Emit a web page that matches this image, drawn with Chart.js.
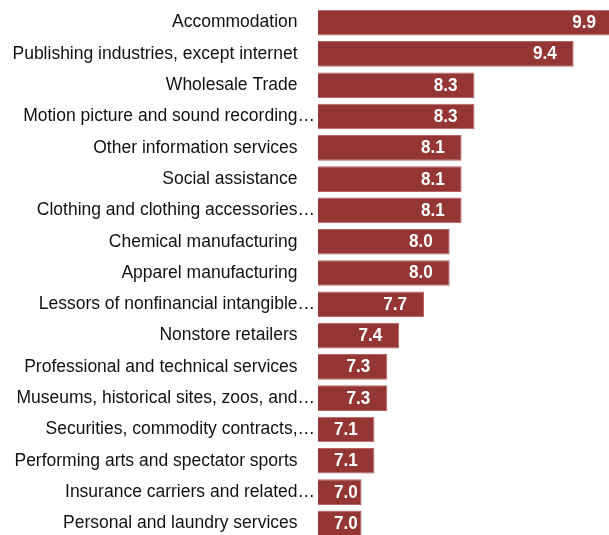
<!DOCTYPE html>
<html>
<head>
<meta charset="utf-8">
<script src="https://cdn.jsdelivr.net/npm/chart.js@4"></script>
<style>
  html, body { margin: 0; padding: 0; background: #fff; overflow: hidden; }
  #wrap { width: 613px; height: 539px; position: relative; }
</style>
</head>
<body>
<div id="wrap"><canvas id="c"></canvas></div>
<script>
const categories = [
  "Accommodation",
  "Publishing industries, except internet",
  "Wholesale Trade",
  "Motion picture and sound recording…",
  "Other information services",
  "Social assistance",
  "Clothing and clothing accessories…",
  "Chemical manufacturing",
  "Apparel manufacturing",
  "Lessors of nonfinancial intangible…",
  "Nonstore retailers",
  "Professional and technical services",
  "Museums, historical sites, zoos, and…",
  "Securities, commodity contracts,…",
  "Performing arts and spectator sports",
  "Insurance carriers and related…",
  "Personal and laundry services"
];
const values = [9.9, 9.44, 8.28, 8.28, 8.13, 8.13, 8.13, 7.99, 7.99, 7.69, 7.40, 7.26, 7.26, 7.11, 7.11, 6.96, 6.96];
const axisMin = 6.45;
const axisMax = 9.9;

const barColor = '#943634';

const valueLabels = {
  id: 'valueLabels',
  afterDatasetsDraw(chart) {
    const ctx = chart.ctx;
    const meta = chart.getDatasetMeta(0);
    const left = chart.chartArea.left;
    const sx = 0.95;
    ctx.save();
    ctx.fillStyle = '#ffffff';
    ctx.font = 'bold 18px "Liberation Sans", Arial, sans-serif';
    ctx.textAlign = 'left';
    ctx.textBaseline = 'middle';
    meta.data.forEach((bar, i) => {
      const txt = values[i].toFixed(1);
      const w = ctx.measureText(txt).width * sx;
      const x0 = Math.max(bar.x - 17 - w, left + 16);
      ctx.save();
      ctx.translate(x0, bar.y + 0.5);
      ctx.scale(sx, 1);
      ctx.fillText(txt, 0, 0);
      ctx.restore();
    });
    ctx.restore();
  }
};

new Chart(document.getElementById('c'), {
  type: 'bar',
  data: {
    labels: categories,
    datasets: [{
      data: values,
      backgroundColor: barColor,
      borderColor: '#b56664',
      borderWidth: 1,
      barPercentage: 0.82,
      categoryPercentage: 1.0
    }]
  },
  options: {
    indexAxis: 'y',
    responsive: true,
    maintainAspectRatio: false,
    animation: false,
    layout: { padding: { top: 7, right: 0, bottom: 0, left: 0 } },
    plugins: { legend: { display: false }, tooltip: { enabled: false } },
    scales: {
      x: {
        display: false,
        min: axisMin,
        max: axisMax
      },
      y: {
        grid: { display: false, drawTicks: false },
        border: { display: false },
        ticks: {
          color: '#111111',
          padding: 3,
          autoSkip: false,
          font: { family: '"Liberation Sans", Arial, sans-serif', size: 17.5 },
          callback: function (v, i) {
            const t = categories[i];
            return t.endsWith('…') ? t : t + '\u2002\u2002';
          }
        },
        afterFit: function (scale) {
          scale.width = 318;
          scale.paddingTop = 0;
          scale.paddingBottom = 0;
        }
      }
    }
  },
  plugins: [valueLabels]
});
</script>
</body>
</html>
